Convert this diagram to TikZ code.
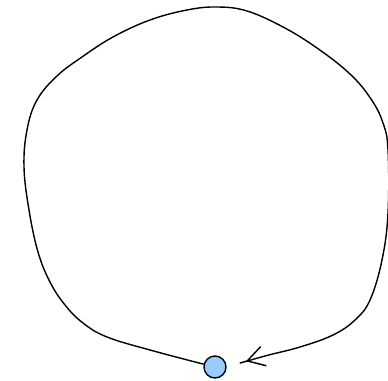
\documentclass[tikz,border=0pt]{standalone}
\usepackage{xcolor}
\usepackage{tikz}
\usetikzlibrary{arrows.meta}

\definecolor{nodeblue}{HTML}{99CCFF}

\begin{document}
\begin{tikzpicture}[
    x=1pt,y=1pt,
    line width=1.4pt,
    state/.style={circle,draw,fill=nodeblue,minimum size=22pt,inner sep=0pt},
    >={Straight Barb[length=17pt,width=20pt]}
]
\useasboundingbox (0,0) rectangle (388,380);
\node[state] (s) at (215,13) {};
% self loop of the state
\draw[->,shorten >=20pt] plot[smooth,tension=0.65] coordinates {
  (s.166) (150,30) (107,43) (83,57) (65,75) (50,98) (38,128)
  (29,170) (24,213) (27,250) (37,280) (57,304) (82,323) (113,343)
  (150,360) (187,370) (217,373) (247,369) (283,353) (317,332)
  (350,306) (371,281) (383,257) (388,230) (388,167) (382,120)
  (370,80) (355,60) (333,45) (300,33) (265,24) (s.east)};
\end{tikzpicture}
\end{document}
